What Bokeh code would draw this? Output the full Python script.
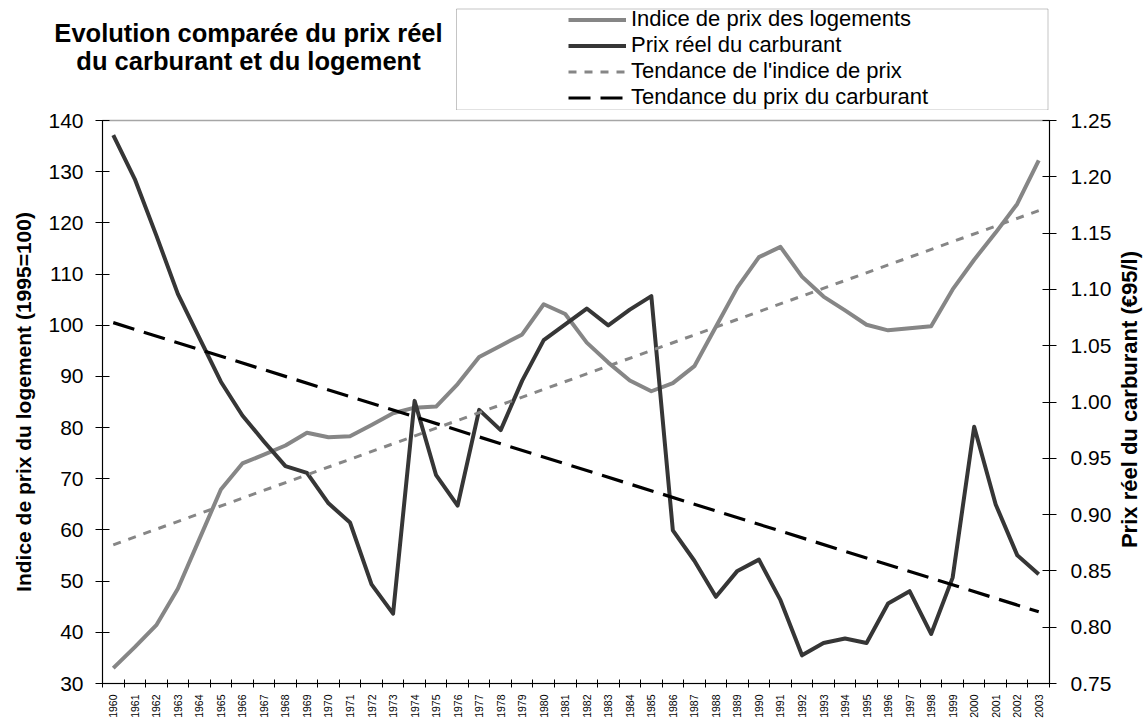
import math
from bokeh.plotting import figure
from bokeh.layouts import column, row
from bokeh.models import (Range1d, LinearAxis, FixedTicker, NumeralTickFormatter,
                          Legend, LegendItem, Label, BoxAnnotation)
from bokeh.embed import file_html
from bokeh.resources import INLINE

# ---------------- data ----------------
years = list(range(1960, 2004))
housing = [33.0, 37.1, 41.4, 48.5, 58.2, 67.9, 73.0, 74.7, 76.5, 79.0,
           78.1, 78.3, 80.5, 82.8, 83.9, 84.1, 88.5, 93.8, 96.0, 98.2,
           104.1, 102.2, 96.6, 92.7, 89.2, 87.1, 88.7, 92.0, 99.7, 107.4,
           113.3, 115.3, 109.5, 105.6, 102.9, 100.1, 99.0, 99.4, 99.8, 107.0,
           112.8, 118.1, 123.7, 132.2]
fuel = [1.237, 1.198, 1.148, 1.096, 1.057, 1.018, 0.988, 0.965, 0.943, 0.937,
        0.910, 0.893, 0.838, 0.812, 1.001, 0.935, 0.908, 0.993, 0.975, 1.019,
        1.055, 1.069, 1.083, 1.068, 1.082, 1.094, 0.886, 0.859, 0.827, 0.850,
        0.860, 0.824, 0.775, 0.786, 0.790, 0.786, 0.821, 0.832, 0.794, 0.844,
        0.978, 0.909, 0.864, 0.847]
trend_years = [1960, 2003]
housing_trend = [57.1, 122.4]
fuel_trend = [1.0705, 0.8137]

left_ticks = [30, 40, 50, 60, 70, 80, 90, 100, 110, 120, 130, 140]
right_ticks = [0.75, 0.80, 0.85, 0.90, 0.95, 1.00, 1.05, 1.10, 1.15, 1.20, 1.25]

title_lines = ["Evolution comparée du prix réel", "du carburant et du logement"]
legend_labels = ["Indice de prix des logements", "Prix réel du carburant",
                 "Tendance de l'indice de prix", "Tendance du prix du carburant"]
left_label = "Indice de prix du logement (1995=100)"
right_label = "Prix réel du carburant (€95/l)"

FONT = "Liberation Sans"
GRAY = "#868686"
DARK = "#363636"
W = 1143
HEAD_H = 110
MAIN_H = 720 - HEAD_H
RT_W = 26

STYLES = [dict(line_color=GRAY, line_width=4),
          dict(line_color=DARK, line_width=4),
          dict(line_color=GRAY, line_width=3, line_dash="8 8"),
          dict(line_color="black", line_width=3.2, line_dash="22 10")]
SERIES = [(years, housing), (years, fuel), (trend_years, housing_trend),
          (trend_years, fuel_trend)]


def blank_fig(width, height):
    f = figure(width=width, height=height, x_range=Range1d(0, width),
               y_range=Range1d(0, height), output_backend="svg",
               toolbar_location=None, title=None,
               x_axis_location=None, y_axis_location=None,
               min_border=0, min_border_left=0, min_border_right=0,
               min_border_top=0, min_border_bottom=0)
    f.xgrid.visible = False
    f.ygrid.visible = False
    f.outline_line_color = None
    f.background_fill_color = "white"
    f.border_fill_color = "white"
    return f


# ---------------- header: title + legend ----------------
h = blank_fig(W, HEAD_H)

for text, yy in zip(title_lines, [HEAD_H - 32, HEAD_H - 60]):
    h.add_layout(Label(x=248, y=yy, text=text, text_font=FONT,
                       text_font_style="bold", text_font_size="25.5px",
                       text_align="center", text_baseline="middle",
                       text_color="black"))

h.add_layout(BoxAnnotation(left=456, right=1047.5, bottom=0.5, top=HEAD_H - 8.5,
                           fill_alpha=0, line_color="#404040", line_width=1))

# legend keys: same series/styles, lying outside the header's visible range
keys = [h.line(xs, ys, **st) for (xs, ys), st in zip(SERIES, STYLES)]
legend = Legend(items=[LegendItem(label=lab, renderers=[rr])
                       for lab, rr in zip(legend_labels, keys)],
                location=(568, 0), glyph_width=58, glyph_height=25,
                label_height=25, label_standoff=5, padding=0, spacing=0,
                margin=0, border_line_alpha=0, background_fill_alpha=0,
                label_text_font=FONT, label_text_font_size="22px",
                label_text_color="black")
h.add_layout(legend)

# ---------------- main chart ----------------
p = figure(width=W - RT_W, height=MAIN_H,
           x_range=Range1d(years[0] - 0.5, years[-1] + 0.5),
           y_range=Range1d(left_ticks[0], left_ticks[-1]),
           output_backend="svg", toolbar_location=None,
           min_border_left=102, min_border_right=68,
           min_border_top=10, min_border_bottom=36)
p.title.visible = False
p.extra_y_ranges = {"fuel": Range1d(right_ticks[0], right_ticks[-1])}
p.xgrid.visible = False
p.ygrid.visible = False
p.outline_line_color = "#a6a6a6"
p.outline_line_width = 1.5
p.background_fill_color = "white"
p.border_fill_color = "white"

r1 = p.line(years, housing, line_join="round", **STYLES[0])
r2 = p.line(years, fuel, y_range_name="fuel", line_join="round", **STYLES[1])
r3 = p.line(trend_years, housing_trend, **STYLES[2])
r4 = p.line(trend_years, fuel_trend, y_range_name="fuel", **STYLES[3])

# x axis
xa = p.xaxis[0]
xa.ticker = FixedTicker(ticks=years,
                        minor_ticks=[y - 0.5 for y in years] + [years[-1] + 0.5])
xa.major_tick_line_color = None
xa.major_tick_in = 0
xa.major_tick_out = 4
xa.minor_tick_in = 4
xa.minor_tick_out = 4
xa.minor_tick_line_color = "black"
xa.axis_line_color = "black"
xa.major_label_orientation = math.pi / 2
xa.major_label_text_font = FONT
xa.major_label_text_font_size = "10.5px"
xa.major_label_text_color = "black"
xa.major_label_standoff = 7

# left axis
ya = p.yaxis[0]
ya.ticker = FixedTicker(ticks=left_ticks)
ya.major_tick_in = 7
ya.major_tick_out = 7
ya.minor_tick_line_color = None
ya.axis_line_color = "black"
ya.major_label_text_font = FONT
ya.major_label_text_font_size = "21px"
ya.major_label_text_color = "black"
ya.major_label_standoff = 12
ya.axis_label = left_label
ya.axis_label_text_font = FONT
ya.axis_label_text_font_style = "bold"
ya.axis_label_text_font_size = "21px"
ya.axis_label_text_color = "black"
ya.axis_label_standoff = 10

# right axis (its title is drawn in the narrow strip to the right)
ra = LinearAxis(y_range_name="fuel", ticker=FixedTicker(ticks=right_ticks),
                formatter=NumeralTickFormatter(format="0.00"))
ra.major_tick_in = 7
ra.major_tick_out = 7
ra.minor_tick_line_color = None
ra.axis_line_color = "black"
ra.major_label_text_font = FONT
ra.major_label_text_font_size = "21px"
ra.major_label_text_color = "black"
ra.major_label_standoff = 14
p.add_layout(ra, "right")

# ---------------- right-hand axis title strip ----------------
rt = blank_fig(RT_W, MAIN_H)
rt.add_layout(Label(x=12, y=MAIN_H - 289, text=right_label, angle=math.pi / 2,
                    text_font=FONT, text_font_style="bold",
                    text_font_size="22px", text_align="center",
                    text_baseline="middle", text_color="black"))

for fig in (h, p, rt):
    if "frame_align" in fig.properties():
        fig.frame_align = False

layout = column(h, row(p, rt, spacing=0), spacing=0)
open("out.html", "w").write(file_html(layout, INLINE, "chart"))
